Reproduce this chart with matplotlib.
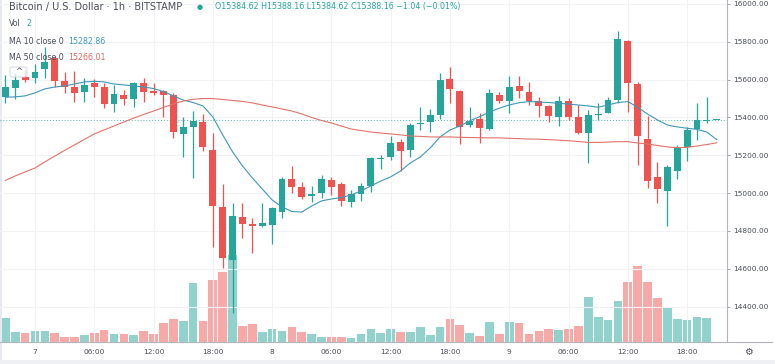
import numpy as np
import matplotlib
matplotlib.use("Agg")
import matplotlib.pyplot as plt
from matplotlib.patches import FancyBboxPatch, Rectangle
from matplotlib.lines import Line2D

# Hourly candles, hour 0 = 7th 00:00
hours = list(range(-3, 70))

opens = [15507, 15557, 15612, 15607, 15655, 15714, 15593, 15563, 15535, 15581,
         15563, 15470, 15519, 15499, 15581, 15542, 15540, 15519, 15311, 15351,
         15378, 15228, 14928, 14647, 14876, 14837, 14828, 14832, 14902, 15075,
         15031, 14985, 15002, 15070, 15048, 14952, 14996, 15038, 15179, 15193,
         15269, 15228, 15364, 15375, 15413, 15603, 15542, 15360, 15390, 15338,
         15519, 15487, 15568, 15536, 15487, 15461, 15404, 15489, 15401, 15320,
         15413, 15425, 15492, 15806, 15577, 15286, 15084, 15011, 15119, 15246,
         15338, 15383, 15384.62]
highs = [15625, 15635, 15650, 15683, 15774, 15725, 15640, 15646, 15609, 15603,
         15582, 15572, 15545, 15589, 15609, 15582, 15545, 15529, 15404, 15434,
         15418, 15318, 15048, 14950, 14950, 14870, 14948, 14928, 15087, 15145,
         15061, 15038, 15096, 15087, 15061, 15017, 15052, 15193, 15202, 15302,
         15286, 15369, 15454, 15443, 15637, 15669, 15545, 15454, 15422, 15549,
         15536, 15619, 15621, 15586, 15510, 15466, 15514, 15501, 15466, 15440,
         15475, 15507, 15859, 15810, 15589, 15408, 15166, 15149, 15255, 15351,
         15475, 15510, 15388.16]
lows = [15477, 15498, 15585, 15582, 15609, 15560, 15529, 15483, 15482, 15508,
        15450, 15431, 15466, 15457, 15483, 15519, 15404, 15292, 15191, 15082,
        15223, 14717, 14604, 14367, 14765, 14685, 14823, 14731, 14869, 15001,
        14969, 14952, 14973, 14990, 14932, 14928, 14960, 15008, 15126, 15175,
        15119, 15193, 15334, 15325, 15390, 15478, 15260, 15351, 15264, 15334,
        15475, 15425, 15501, 15466, 15404, 15375, 15357, 15387, 15313, 15161,
        15387, 15422, 15475, 15431, 15149, 15026, 14950, 14826, 15073, 15172,
        15281, 15369, 15384.62]
closes = [15563, 15598, 15600, 15639, 15695, 15595, 15563, 15531, 15570, 15560,
          15470, 15524, 15499, 15581, 15533, 15531, 15519, 15325, 15348, 15381,
          15246, 14932, 14656, 14879, 14835, 14826, 14841, 14921, 15075, 15031,
          14978, 14994, 15076, 15031, 14960, 14996, 15038, 15184, 15184, 15264,
          15225, 15360, 15372, 15413, 15598, 15551, 15351, 15381, 15343, 15528,
          15489, 15563, 15540, 15489, 15462, 15408, 15489, 15404, 15320, 15413,
          15418, 15492, 15815, 15581, 15304, 15064, 15020, 15140, 15246, 15334,
          15387, 15389, 15388.16]
volumes = [243, 103, 87, 113, 110, 87, 53, 47, 70, 87,
           120, 80, 80, 67, 110, 80, 187, 230, 210, 587,
           213, 620, 697, 870, 160, 180, 97, 127, 113, 147,
           103, 80, 53, 47, 53, 37, 80, 127, 90, 127,
           103, 103, 147, 70, 150, 227, 167, 87, 60, 203,
           80, 203, 187, 80, 107, 133, 120, 127, 160, 447,
           253, 220, 413, 600, 763, 600, 443, 343, 227, 220,
           247, 240, 2]
ma10 = [15507, 15509, 15514, 15530, 15551, 15561, 15567, 15577, 15588, 15591,
        15588, 15577, 15572, 15567, 15561, 15553, 15537, 15514, 15492, 15479,
        15461, 15403, 15308, 15218, 15144, 15080, 15022, 14964, 14927, 14903,
        14900, 14932, 14959, 14969, 14977, 14990, 15012, 15038, 15064, 15086,
        15117, 15160, 15191, 15239, 15297, 15334, 15355, 15382, 15404, 15429,
        15449, 15466, 15478, 15484, 15482, 15479, 15475, 15471, 15466, 15461,
        15454, 15466, 15479, 15484, 15454, 15418, 15387, 15360, 15350, 15343,
        15337, 15323, 15282.86]
ma50 = [15067, 15091, 15112, 15133, 15165, 15196, 15226, 15255, 15284, 15313,
        15334, 15355, 15376, 15397, 15416, 15434, 15453, 15471, 15487, 15496,
        15500, 15500, 15495, 15490, 15485, 15477, 15466, 15456, 15445, 15434,
        15419, 15400, 15384, 15371, 15355, 15339, 15331, 15323, 15318, 15313,
        15308, 15302, 15300, 15297, 15297, 15297, 15295, 15294, 15293, 15292,
        15292, 15290, 15288, 15286, 15285, 15283, 15280, 15277, 15273, 15268,
        15268, 15270, 15272, 15272, 15265, 15260, 15252, 15244, 15241, 15242,
        15249, 15257, 15266.01]

tick_hours = [0, 6, 12, 18, 24, 30, 36, 42, 48, 54, 60, 66]
tick_labels = ["7", "06:00", "12:00", "18:00", "8", "06:00", "12:00", "18:00",
               "9", "06:00", "12:00", "18:00"]
price_ticks = [14400, 14600, 14800, 15000, 15200, 15400, 15600, 15800, 16000]

UP = "#26a69a"
DOWN = "#ef5350"
UP_VOL = "#92d2cc"
DOWN_VOL = "#f7a9a7"
TXT = "#4a4e59"
GRID = "#f0f2f6"

W, H = 775, 364
plt.rcParams["font.family"] = ["DejaVu Sans"]
fig = plt.figure(figsize=(W / 100, H / 100), dpi=100)


def fx(px):
    return px / W


def fy(py):
    return 1 - py / H


rect = [0, fy(342), fx(727), 342 / H]
vax = fig.add_axes(rect, zorder=0)
ax = fig.add_axes(rect, zorder=1)
ax.patch.set_visible(False)

x0, x1 = -3.54, 70.04
ymin, ymax = 14213, 16021

# volume bars
vcol = [UP_VOL if c >= o else DOWN_VOL for o, c in zip(opens, closes)]
vax.bar(hours, volumes, width=0.88, color=vcol, linewidth=0)
vax.set_xlim(x0, x1)
vax.set_ylim(0, 3420)
vax.axis("off")

# grid
for t in tick_hours:
    ax.axvline(t, color=GRID, lw=0.8, zorder=0)
for p in price_ticks:
    ax.axhline(p, color=GRID, lw=0.8, zorder=0)

# candles
for h, o, hi, lo, c in zip(hours, opens, highs, lows, closes):
    col = UP if c >= o else DOWN
    ax.vlines(h, lo, hi, color=col, lw=0.9, zorder=2)
    body = max(abs(c - o), 5)
    ax.bar(h, body, bottom=min(o, c), width=0.7, color=col, linewidth=0, zorder=3)

ax.plot(hours, ma10, color="#3f97b8", lw=0.8, zorder=4)
ax.plot(hours, ma50, color="#e0746b", lw=0.8, zorder=4)
ax.axhline(closes[-1], color=UP, lw=0.7, ls=(0, (1, 2)), alpha=0.8, zorder=1)

ax.set_xlim(x0, x1)
ax.set_ylim(ymin, ymax)
ax.set_xticks(tick_hours)
ax.set_xticklabels(tick_labels)
ax.set_yticks(price_ticks)
ax.set_yticklabels([f"{p:.2f}" for p in price_ticks])
ax.yaxis.tick_right()
ax.tick_params(axis="y", length=2.5, width=0.6, color="#9598a1", pad=2,
               labelsize=5.3, labelcolor=TXT)
ax.tick_params(axis="x", length=0, pad=5, labelsize=5.3, labelcolor=TXT)
for s in ["left", "top"]:
    ax.spines[s].set_visible(False)
ax.spines["right"].set_color("#b2b5be")
ax.spines["bottom"].set_color("#b2b5be")
ax.spines["right"].set_linewidth(0.8)
ax.spines["bottom"].set_linewidth(0.8)

# bottom axis line continues under the price scale
fig.add_artist(Line2D([fx(727), fx(772)], [fy(342), fy(342)], color="#b2b5be", lw=0.8))
fig.text(fx(748), fy(352), "\u2699", fontsize=7, color=TXT, ha="center", va="center")

# frame edges
fig.add_artist(Rectangle((0, 0), fx(2), 1, color="#e6e9f0", lw=0))
fig.add_artist(Rectangle((0, 0), 1, 4 / H, color="#eef0f4", lw=0))

# legend texts
fs = 5.7
fig.text(fx(9), fy(7), "Bitcoin / U.S. Dollar \u00b7 1h \u00b7 BITSTAMP", fontsize=7,
         color=TXT, va="center")
fig.text(fx(200), fy(7), "\u25cf", fontsize=5, color=UP, va="center", ha="center")
fig.text(fx(215), fy(7),
         f"O{opens[-1]:.2f} H{highs[-1]:.2f} L{lows[-1]:.2f} C{closes[-1]:.2f} "
         "\u22121.04 (\u22120.01%)", fontsize=fs, color=UP, va="center")
fig.text(fx(9), fy(24), "Vol", fontsize=fs, color=TXT, va="center")
fig.text(fx(26), fy(24), f"{volumes[-1]}", fontsize=fs, color=UP, va="center")
fig.text(fx(9), fy(41), "MA 10 close 0", fontsize=fs, color=TXT, va="center")
fig.text(fx(68), fy(41), f"{ma10[-1]:.2f}", fontsize=fs, color="#3f97b8", va="center")
fig.text(fx(9), fy(57), "MA 50 close 0", fontsize=fs, color=TXT, va="center")
fig.text(fx(68), fy(57), f"{ma50[-1]:.2f}", fontsize=fs, color="#e0665e", va="center")

box = FancyBboxPatch((fx(10), fy(77)), fx(17), 10 / H,
                     boxstyle="round,pad=0,rounding_size=0.004",
                     fc=(1, 1, 1, 0.75), ec="#d1d4dc", lw=0.6, zorder=5)
fig.add_artist(box)
fig.text(fx(18.5), fy(72), "^", fontsize=6, color=TXT, ha="center", va="center", zorder=6)

fig.savefig("out.png", dpi=100)
